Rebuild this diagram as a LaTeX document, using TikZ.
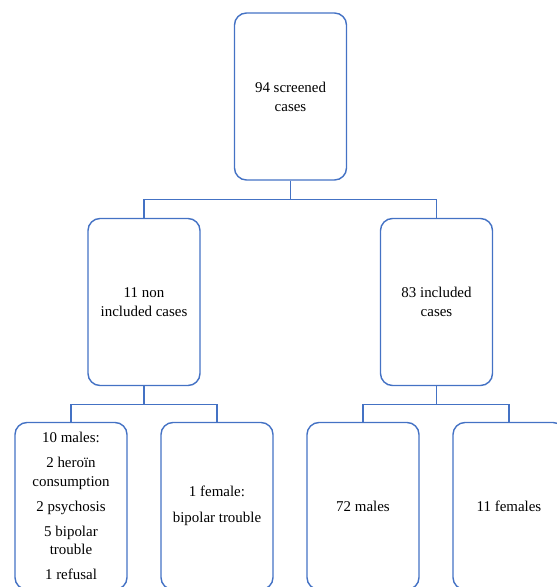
\documentclass[tikz,border=0pt]{standalone}
\usepackage{fontspec}
\setmainfont{Liberation Serif}
\definecolor{caseblue}{RGB}{68,114,196}
\begin{document}
\begin{tikzpicture}[x=1bp, y=-1bp, line width=1.4bp]
	\tikzset{
		casebox/.style={ draw=caseblue
		               , rounded corners=12bp
		               , minimum width=112bp
		               , minimum height=167bp
		               , inner sep=0
		               , align=center
		               , font=\fontsize{15}{19}\selectfont
		               },
		caselink/.style={draw=caseblue}
	}
	\useasboundingbox (0,0) rectangle (557,587);
	
	% Nodes
	\node (screened) [casebox] at (290.5, 96.5) {94 screened\\cases};
	\node (excluded) [casebox] at (144, 302)    {11 non\\included cases};
	\node (included) [casebox] at (436.5, 302)  {83 included\\cases};
	
	\node (exmales)   [casebox] at (71, 506)
	      {10 males:\\[6bp]
	       2 hero\"in\\consumption\\[6bp]
	       2 psychosis\\[6bp]
	       5 bipolar\\trouble\\[6bp]
	       1 refusal};
	\node (exfemale)  [casebox] at (217, 506) {1 female:\\[7bp]bipolar trouble};
	\node (inmales)   [casebox] at (363, 506) {72 males};
	\node (infemales) [casebox] at (509, 506) {11 females};
	
	% Links
	\foreach \from/\to in {screened/excluded, screened/included,
	                       excluded/exmales, excluded/exfemale,
	                       included/inmales, included/infemales}{
		\draw [caselink] (\from.south) -- ++(0, 18.5) -| (\to.north);
	}
\end{tikzpicture}
\end{document}
